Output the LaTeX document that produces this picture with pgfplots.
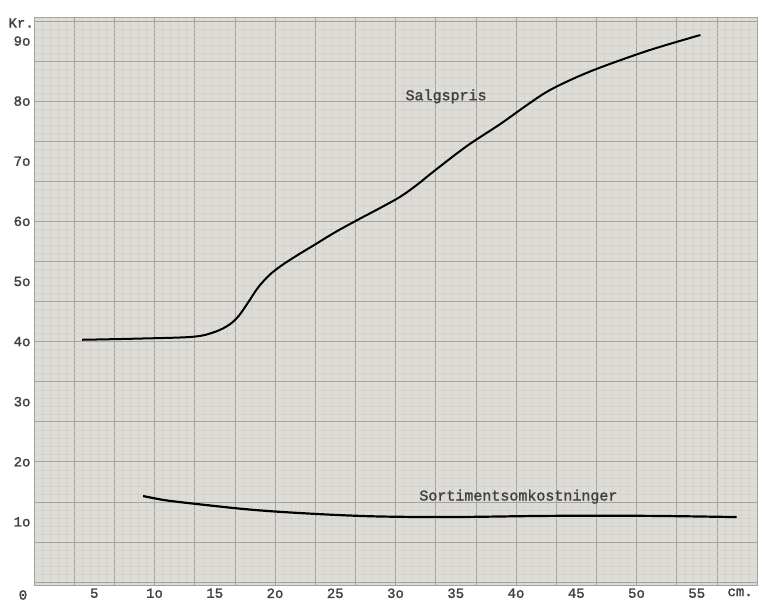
\documentclass[border=0pt]{standalone}
\usepackage{pgfplots}
\pgfplotsset{compat=1.18}
\usepackage{fontspec}
\setmainfont{Liberation Serif}
\newfontfamily\tw[FakeBold=1.6]{Liberation Mono}
\definecolor{paper}{RGB}{222,220,215}
\definecolor{gridc}{RGB}{165,163,158}
\definecolor{minorc}{RGB}{212,210,205}
\definecolor{ink}{RGB}{65,65,65}
\begin{document}
\begin{tikzpicture}
\begin{axis}[
 scale only axis, width=723pt, height=568pt,
 xmin=0, xmax=60, ymin=-0.5, ymax=94,
 axis background/.style={fill=paper},
 axis line style={draw=gridc, line width=0.6pt},
 xtick={0,3.3333,...,60}, ytick={0,6.6667,...,94},
 xticklabels={}, yticklabels={},
 major tick length=0pt, minor tick length=0pt,
 minor x tick num=4, minor y tick num=4,
 grid=both,
 major grid style={draw=gridc, line width=0.6pt},
 minor grid style={draw=minorc, line width=0.3pt},
 extra x ticks={5,10,15,20,25,30,35,40,45,50,55,58.6},
 extra x tick labels={5,1o,15,2o,25,3o,35,4o,45,5o,55,cm.},
 extra y ticks={10,20,30,40,50,60,70,80,90},
 extra y tick labels={1o,2o,3o,4o,5o,6o,7o,8o,9o},
 extra tick style={grid=none, major tick length=0pt},
 ticklabel style={font=\tw\fontsize{14}{16}\selectfont, text=ink},
 clip=false,
]
\addplot[black, line width=2pt, smooth, tension=0.55] coordinates {
(4.0,40.3) (8.8,40.5) (13.2,40.8) (15.0,41.6) (16.2,42.8) (17.0,44.3) (17.8,46.6)
(18.6,49.0) (19.5,51.0) (20.5,52.6) (21.8,54.3) (23.2,56.0) (25.0,58.2) (27.0,60.4)
(28.7,62.2) (30.4,64.1) (31.8,66.1) (33.1,68.2) (35.9,72.5) (38.7,76.2) (40.8,79.2)
(42.6,81.6) (44.6,83.6) (47.0,85.6) (51.1,88.5) (55.3,91.0)};
\addplot[black, line width=2.2pt, smooth, tension=0.5] coordinates {
(9.05,14.3) (10.9,13.6) (13.4,13.0) (17.1,12.2) (20.2,11.7) (24.6,11.2) (28.7,10.9)
(34.5,10.8) (42.8,11.0) (51.1,11.0) (58.3,10.8)};
\node[font=\tw\fontsize{15}{17}\selectfont, text=ink] at (axis cs:34.2,80.8) {Salgspris};
\node[font=\tw\fontsize{15}{17}\selectfont, text=ink] at (axis cs:40.2,14.2) {Sortimentsomkostninger};
\node[font=\tw\fontsize{14}{16}\selectfont, text=ink, anchor=east, inner sep=0pt] at (axis cs:0,93.0) {Kr.};
\node[font=\tw\fontsize{14}{16}\selectfont, text=ink, xshift=-11pt, yshift=-10pt] at (axis cs:0,-0.5) {0};
\end{axis}
\path (current axis.south west) ++(-34pt,-23pt);
\path (current axis.north east) ++(5pt,17pt);
\end{tikzpicture}
\end{document}
